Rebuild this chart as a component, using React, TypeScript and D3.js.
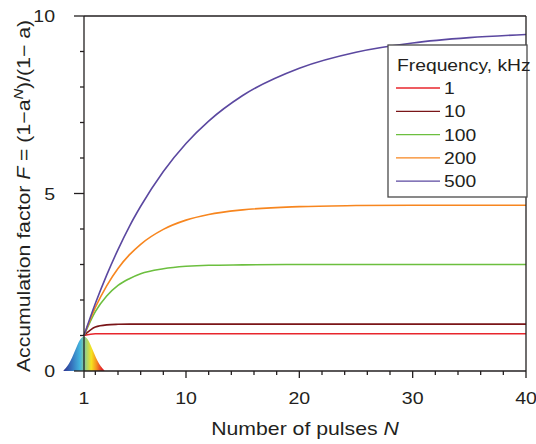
import { useMemo } from "react";
import type { ReactNode } from "react";
import * as d3 from "d3";

const width = 536;
const height = 444;
const margin = { top: 16, right: 10, bottom: 73, left: 84 };

// pulse numbers where the curves were read
const pulses = [1, 2, 3, 4, 5, 6, 8, 10, 12, 15, 20, 25, 30, 35, 40];

const frequencies = ["1", "10", "100", "200", "500"];
const colors = ["#e8262d", "#7a1518", "#6cbf3f", "#f7861f", "#5b48a0"];

// accumulation factor at the pulse numbers above
const f1 = [1, 1.05, 1.05, 1.05, 1.05, 1.05, 1.05, 1.05, 1.05, 1.05, 1.05, 1.05, 1.05, 1.05, 1.05];
const f10 = [1, 1.24, 1.3, 1.315, 1.32, 1.32, 1.32, 1.32, 1.32, 1.32, 1.32, 1.32, 1.32, 1.32, 1.32];
const f100 = [1, 1.67, 2.11, 2.41, 2.6, 2.74, 2.88, 2.95, 2.98, 2.99, 3.0, 3.0, 3.0, 3.0, 3.0];
const f200 = [1, 1.79, 2.4, 2.89, 3.27, 3.57, 3.99, 4.25, 4.41, 4.54, 4.63, 4.66, 4.67, 4.67, 4.67];
const f500 = [1, 1.9, 2.7, 3.42, 4.07, 4.64, 5.62, 6.41, 7.04, 7.76, 8.53, 8.98, 9.24, 9.39, 9.48];
const series = [f1, f10, f100, f200, f500];

// laser pulse shape drawn at N = 1 (offset in N, relative height)
const pulseOffset = [-1.8, -1.5, -1.2, -0.9, -0.6, -0.3, 0, 0.3, 0.6, 0.9, 1.2, 1.5, 1.8];
const pulseHeight = [0.02, 0.12, 0.27, 0.49, 0.73, 0.92, 1, 0.92, 0.73, 0.49, 0.27, 0.12, 0.02];

const xMajor = [1, 10, 20, 30, 40];
const xMinor = [2, 4, 6, 8, 12, 14, 16, 18, 22, 24, 26, 28, 32, 34, 36, 38];
const yMajor = [0, 5, 10];
const yMinor = [1, 2, 3, 4, 6, 7, 8, 9];

const font = "Liberation Sans, Arial, sans-serif";
const ink = "#231f20";

// the original lettering is wider than Liberation Sans, so text is stretched
function T(props: {
  x: number;
  y: number;
  anchor?: string;
  size?: number;
  stretch?: number;
  rotate?: boolean;
  dy?: string;
  children: ReactNode;
}) {
  const { x, y, anchor = "start", size = 17, stretch = 1.15, rotate = false, dy, children } = props;
  return (
    <text
      transform={`translate(${x},${y})${rotate ? " rotate(-90)" : ""} scale(${stretch},1)`}
      textAnchor={anchor}
      fontSize={size}
      dy={dy}
      fill={ink}
    >
      {children}
    </text>
  );
}

export default function App() {
  const x = d3.scaleLinear().domain([1, 40]).range([margin.left, width - margin.right]);
  const y = d3.scaleLinear().domain([0, 10]).range([height - margin.bottom, margin.top]);

  const line = d3
    .line<number>()
    .x((_, i) => x(pulses[i]))
    .y((d) => y(d))
    .curve(d3.curveMonotoneX);

  const pulseArea = useMemo(
    () =>
      d3
        .area<number>()
        .x((d) => x(1 + d))
        .y0(y(0))
        .y1((_, i) => y(pulseHeight[i]))
        .curve(d3.curveBasis)(pulseOffset),
    []
  );

  const x0 = x(1);
  const x1 = x(40);
  const y0 = y(0);
  const yTop = y(10);

  const legX = 388;
  const legY = 45;

  return (
    <svg
      width={width}
      height={height}
      style={{ position: "absolute", left: 0, top: 0 }}
      fontFamily={font}
    >
      <defs>
        <linearGradient id="spectrum" x1="0" x2="1" y1="0" y2="0">
          <stop offset="0%" stopColor="#2f3490" />
          <stop offset="20%" stopColor="#3572bd" />
          <stop offset="40%" stopColor="#43b5de" />
          <stop offset="55%" stopColor="#9fd27e" />
          <stop offset="68%" stopColor="#f5e41f" />
          <stop offset="80%" stopColor="#f5961f" />
          <stop offset="94%" stopColor="#e3262a" />
        </linearGradient>
      </defs>

      {/* pulse shape */}
      <path d={pulseArea ?? ""} fill="url(#spectrum)" />

      {/* curves */}
      {series.map((s, i) => (
        <path key={i} d={line(s) ?? ""} fill="none" stroke={colors[i]} strokeWidth={1.6} />
      ))}

      {/* frame */}
      <g stroke={ink} strokeWidth={1.3} fill="none">
        <line x1={x0} x2={x0} y1={yTop} y2={y0} />
        <line x1={x1} x2={x1} y1={yTop} y2={y0} />
        <line x1={x0} x2={x1} y1={yTop} y2={yTop} />
        <line x1={x0} x2={x1} y1={y0} y2={y0} />
        {yMajor.map((v) => (
          <line key={"ym" + v} x1={x0 - 10} x2={x0} y1={y(v)} y2={y(v)} />
        ))}
        {yMinor.map((v) => (
          <line key={"yn" + v} x1={x0 - 4} x2={x0} y1={y(v)} y2={y(v)} />
        ))}
        {xMajor.map((v) => (
          <line key={"xm" + v} x1={x(v)} x2={x(v)} y1={y0} y2={y0 + 7} />
        ))}
        {xMinor.map((v) => (
          <line key={"xn" + v} x1={x(v)} x2={x(v)} y1={y0} y2={y0 + 4} />
        ))}
      </g>

      {/* tick labels */}
      {yMajor.map((v) => (
        <T key={"yl" + v} x={55} y={y(v)} dy="0.36em" anchor="end">
          {v}
        </T>
      ))}
      {xMajor.map((v) => (
        <T key={"xl" + v} x={x(v)} y={404} anchor="middle">
          {v}
        </T>
      ))}

      {/* axis titles */}
      <T x={305} y={435} anchor="middle" size={18} stretch={1.18}>
        Number of pulses <tspan fontStyle="italic">N</tspan>
      </T>
      <T x={30} y={196} anchor="middle" rotate size={18} stretch={1.18}>
        Accumulation factor <tspan fontStyle="italic">F</tspan> = (1−a
        <tspan fontStyle="italic" fontSize={12.5} dy={-7}>
          N
        </tspan>
        <tspan dy={7}>)/(1− a)</tspan>
      </T>

      {/* legend */}
      <rect x={legX} y={legY} width={139} height={152} fill="#fff" stroke="#4a4a4a" strokeWidth={1.3} />
      <T x={legX + 9} y={legY + 26} size={16.5} stretch={1.17}>
        Frequency, kHz
      </T>
      {frequencies.map((f, i) => {
        const ry = legY + 43 + i * 23.3;
        return (
          <g key={f}>
            <line x1={legX + 8} x2={legX + 52} y1={ry} y2={ry} stroke={colors[i]} strokeWidth={1.3} />
            <T x={legX + 56} y={ry} dy="0.36em" size={16.5} stretch={1.17}>
              {f}
            </T>
          </g>
        );
      })}
    </svg>
  );
}
